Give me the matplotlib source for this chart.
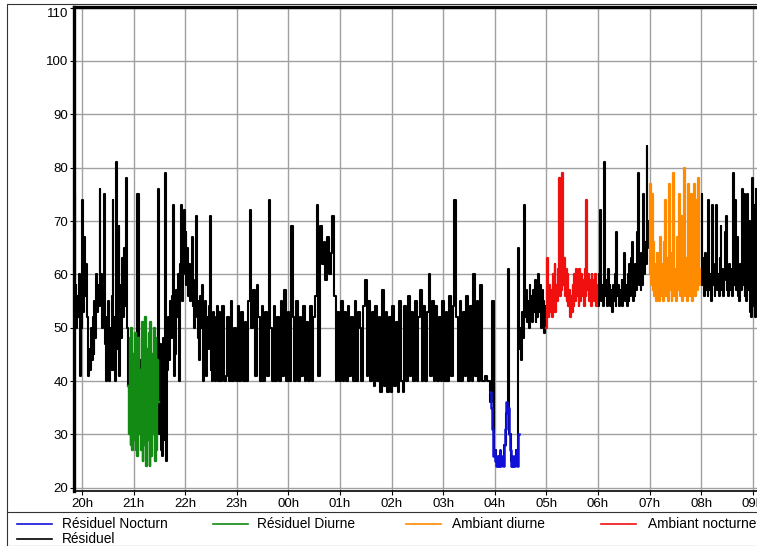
import numpy as np
import matplotlib
matplotlib.use('Agg')
import matplotlib.pyplot as plt
from matplotlib.lines import Line2D
from matplotlib.patches import Rectangle

plt.rcParams['font.family'] = ['Liberation Sans', 'DejaVu Sans']

hour_labels = ['20h', '21h', '22h', '23h', '00h', '01h', '02h',
               '03h', '04h', '05h', '06h', '07h', '08h', '09h']
y_ticks = [20, 30, 40, 50, 60, 70, 80, 90, 100, 110]

# Résiduel (black), one list per stretch
res_1950 = [55, 75, 52, 58, 50, 56, 52, 60, 41, 55,
            50, 74, 53, 67, 56, 62, 52, 47, 41, 46,
            42, 50, 44, 52, 45, 55, 48, 60, 53, 58,
            54, 76, 55, 60, 50, 57, 75, 47, 40, 52,
            41, 55, 40, 50, 42, 56, 74, 42, 52, 40,
            81, 46, 55, 69, 41, 58, 48, 63, 52, 65,
            54, 62, 78, 50, 39]
res_2055 = [38, 42, 35, 40, 30, 75, 36, 44, 33, 40, 29, 45, 34, 41, 30, 38, 44, 76]
res_2130 = [30, 47, 27, 44, 26, 48, 29, 79, 25, 42, 45,
            52, 44, 55, 48, 56, 73, 50,
            41, 45, 57, 52, 60, 40, 58, 62, 73, 55, 64, 72,
            60, 68, 58, 65, 56, 62, 55, 61, 67, 54, 59, 50, 57, 71, 52,
            48, 55, 44, 56, 50, 58, 40, 53, 47, 55, 41, 52, 46, 54, 71,
            42, 52, 40, 53, 45, 40, 52, 41, 54, 40]
res_2240 = [53, 40, 54, 40, 41, 52, 40, 55, 40, 50,
            40, 54, 40, 53, 40, 51, 40, 55, 72, 50, 57, 41, 58, 52, 40,
            54, 40, 53, 41, 74, 50, 40, 54, 40, 52, 40, 55, 41, 57, 40,
            53, 40, 69, 52, 40, 55, 40, 52, 41, 54, 40, 51, 40, 54, 40,
            52, 56, 73, 41, 69, 62, 66, 59, 67, 60, 64, 71, 56, 40, 53,
            40, 55, 40, 53, 40, 54, 41, 52, 40, 55, 40, 53, 50, 40, 54,
            59, 41, 55, 40, 53, 39, 54, 40, 52, 38, 57, 39, 53, 38, 52,
            38, 54, 39, 51, 38, 55, 40, 38, 54, 40, 56, 41, 53, 40, 55,
            40, 52, 57, 40, 54, 40, 53, 60, 41, 55, 40, 54, 40, 52, 40,
            55, 40, 53, 40, 56, 41, 54, 74, 52, 40, 55, 40, 53, 41, 56,
            40, 54, 40, 60, 41, 55, 40, 58, 40, 40, 41, 40, 40]
res_0356 = [36, 55, 27, 25, 24, 26, 25, 25, 28, 34, 61, 30, 25, 24, 25, 27, 65]
res_0429 = [46, 50, 44, 53, 48, 56, 73, 52, 57, 51, 55, 50, 58, 52, 56, 51,
            57, 53, 59, 51, 56, 52, 60, 53, 58, 50, 57, 52, 55, 49, 54]
res_0600 = [57, 54, 60, 72, 55, 58, 54, 67, 81, 56, 59, 54, 61, 55, 58,
            54, 57, 53, 58, 55, 60, 54, 68, 56, 58, 54, 57, 55, 59, 54,
            58, 64, 55, 58, 54, 60, 55, 62, 56, 63, 66, 55, 60, 56, 62,
            57, 68, 79, 58, 63, 57, 64, 58, 75, 60, 66, 62, 84, 65, 70]
res_0800 = [60, 75, 58, 63, 56, 64, 57, 61, 56, 74, 57, 60, 55, 73, 58,
            61, 56, 62, 73, 57, 60, 56, 63, 69, 57, 61, 56, 59, 68, 71,
            57, 60, 56, 62, 57, 61, 56, 64, 79, 58, 74, 57, 67, 56, 60,
            55, 62, 57, 76, 58, 75, 56, 61, 55, 75, 57, 70, 53, 60, 52,
            78, 54, 73, 52, 76]

# coloured periods, 1 minute steps
res_diurne = [39, 30, 48, 28, 50, 27, 45, 29, 49, 27, 44, 26, 48, 30, 42, 27, 51, 25,
              47, 28, 52, 24, 46, 29, 49, 24, 51, 26, 45, 30, 50, 25, 48, 27, 44, 36]
res_nocturne = [38, 35, 31, 28, 26, 27, 25, 24, 26, 24, 25, 27, 24, 25, 26, 24, 28,
                31, 33, 36, 34, 35, 30, 27, 24, 25, 24, 26, 24, 25, 27, 24, 28, 30]
amb_nocturne = [50, 63, 55, 52, 58, 53, 57, 52, 60, 54, 62, 53, 58, 55, 61,
                78, 56, 62, 57, 79, 58, 63, 56, 61, 55, 60, 54, 57, 52, 56,
                53, 58, 54, 60, 55, 61, 56, 59, 54, 61, 55, 60, 56, 59, 54,
                61, 56, 74, 57, 60, 55, 59, 54, 60, 56, 59, 55, 60, 54, 58]
amb_diurne = [60, 77, 58, 75, 57, 66, 56, 62, 55, 64, 57, 61, 55, 67, 56,
              62, 55, 66, 57, 74, 56, 63, 55, 77, 57, 62, 55, 64, 79, 56,
              61, 55, 67, 57, 62, 75, 56, 71, 55, 62, 57, 80, 56, 63, 55,
              77, 57, 62, 56, 75, 55, 64, 77, 56, 62, 74, 57, 78, 58, 61]


def hours(hhmm):
    h, m = map(int, hhmm.split(':'))
    if h < 12:
        h += 24
    return h - 20 + m / 60.0


def times(start, step, n):
    return hours(start) + np.arange(n) * step / 60.0


black_parts = [('19:50', 1, res_1950), ('20:55', 2, res_2055), ('21:30', 1, res_2130),
               ('22:40', 2, res_2240), ('03:56', 2, res_0356), ('04:29', 1, res_0429),
               ('06:00', 1, res_0600), ('08:00', 1, res_0800)]

bt, bv = [], []
for start, step, vals in black_parts:
    t = times(start, step, len(vals))
    if bt and t[0] - bt[-1] > 0.1:
        bt.append(np.nan)
        bv.append(np.nan)
    bt.extend(t)
    bv.extend(vals)

col_blue = '#1010d8'
col_green = '#138a13'
col_orange = '#ff8c00'
col_red = '#f01010'

fig = plt.figure(figsize=(7.57, 5.46), dpi=100)
ax = fig.add_axes([74 / 757, 1 - 490.5 / 546, 686 / 757, 484 / 546])

ds = 'steps-mid'
ax.plot(bt, bv, color='black', lw=1.5, drawstyle=ds, zorder=2)
ax.plot(times('20:54', 1, len(res_diurne)), res_diurne, color=col_green, lw=1.7, drawstyle=ds, zorder=3)
ax.plot(times('03:55', 1, len(res_nocturne)), res_nocturne, color=col_blue, lw=1.8, drawstyle=ds, zorder=3)
ax.plot(times('05:00', 1, len(amb_nocturne)), amb_nocturne, color=col_red, lw=1.6, drawstyle=ds, zorder=3)
ax.plot(times('07:00', 1, len(amb_diurne)), amb_diurne, color=col_orange, lw=1.6, drawstyle=ds, zorder=3)

ax.set_xlim(-0.155, 13.14)
ax.set_ylim(19.5, 110.2)
ax.set_xticks(range(len(hour_labels)))
ax.set_xticklabels(hour_labels)
ax.set_yticks(y_ticks)
ax.set_yticklabels([str(v) for v in y_ticks])
ax.yaxis.get_ticklabels()[-1].set_verticalalignment('top')
ax.tick_params(axis='both', labelsize=9.5, direction='out', length=3, width=0.8, colors='black')
ax.tick_params(axis='y', pad=1)
ax.tick_params(axis='x', pad=2.5)
ax.grid(True, color='#a0a0a0', lw=1.0)
ax.set_axisbelow(True)
ax.spines['top'].set_linewidth(2.4)
ax.spines['left'].set_linewidth(2.4)
ax.spines['bottom'].set_linewidth(1.2)
ax.spines['right'].set_visible(False)

# outer frame and legend area
W, H = 757.0, 546.0
fig.add_artist(Rectangle((7 / W, 0), 1.0, 1 - 4 / H, transform=fig.transFigure,
                         fill=False, edgecolor='#333333', lw=0.8))
fig.add_artist(Line2D([7 / W, 1.0], [1 - 512 / H, 1 - 512 / H], transform=fig.transFigure,
                      color='#333333', lw=0.8))

legend_labels = ['Résiduel Nocturn', 'Résiduel Diurne', 'Ambiant diurne', 'Ambiant nocturne', 'Résiduel']
legend_colors = [col_blue, col_green, col_orange, col_red, 'black']
handle_x = [17, 213, 406, 601, 17]
text_x = [62, 257, 452, 648, 62]
legend_y = [524, 524, 524, 524, 539]
for lab, c, hx, tx, ly in zip(legend_labels, legend_colors, handle_x, text_x, legend_y):
    fig.add_artist(Line2D([hx / W, (hx + 35) / W], [1 - ly / H, 1 - ly / H],
                          transform=fig.transFigure, color=c, lw=1.2))
    fig.text(tx / W, 1 - ly / H, lab, fontsize=9.9, va='center', ha='left')

fig.savefig('out.png', dpi=100)
